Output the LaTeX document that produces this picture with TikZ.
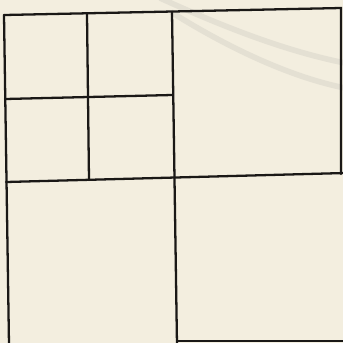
\documentclass[tikz,border=0pt]{standalone}
\usepackage{tikz}
\definecolor{paper}{HTML}{F3EEDF}
\definecolor{ink}{HTML}{1A1816}
\definecolor{stamp}{HTML}{E4E0D3}
\tikzset{gridline/.style={draw=ink,line width=1.3pt,line cap=round},
         stampline/.style={draw=stamp,line width=3.2pt}}
\begin{document}
\begin{tikzpicture}[x=0.02cm,y=-0.02cm]
\fill[paper] (0,0) rectangle (343,343);
\useasboundingbox (0,0) rectangle (343,343);
% faint stamp arcs
\draw[stampline] (160,-2) .. controls (230,30) and (290,52) .. (345,63);
\draw[stampline] (171,12) .. controls (235,52) and (295,78) .. (345,88);
% outer frame
\coordinate (tl) at (4,15);
\coordinate (tr) at (341,8);
\coordinate (bl) at (9,345);
\coordinate (br) at (345,341);
\coordinate (rm) at (341,174);
\coordinate (bm) at (178,341);
\draw[gridline] (tl) -- (tr) -- (rm);
\draw[gridline] (tl) -- (bl);
\draw[gridline] (bm) -- (br);
% main divisions
\coordinate (mt) at (172,12);
\coordinate (mb) at (177,345);
\coordinate (ml) at (6,182);
\coordinate (mr) at (345,173);
\draw[gridline] (mt) -- (mb);
\draw[gridline] (ml) -- (mr);
% top-left quadrant divisions
\coordinate (it) at (87,14);
\coordinate (ib) at (89,180);
\coordinate (il) at (5,99);
\coordinate (ir) at (172,95);
\draw[gridline] (it) -- (ib);
\draw[gridline] (il) -- (ir);
\end{tikzpicture}
\end{document}
